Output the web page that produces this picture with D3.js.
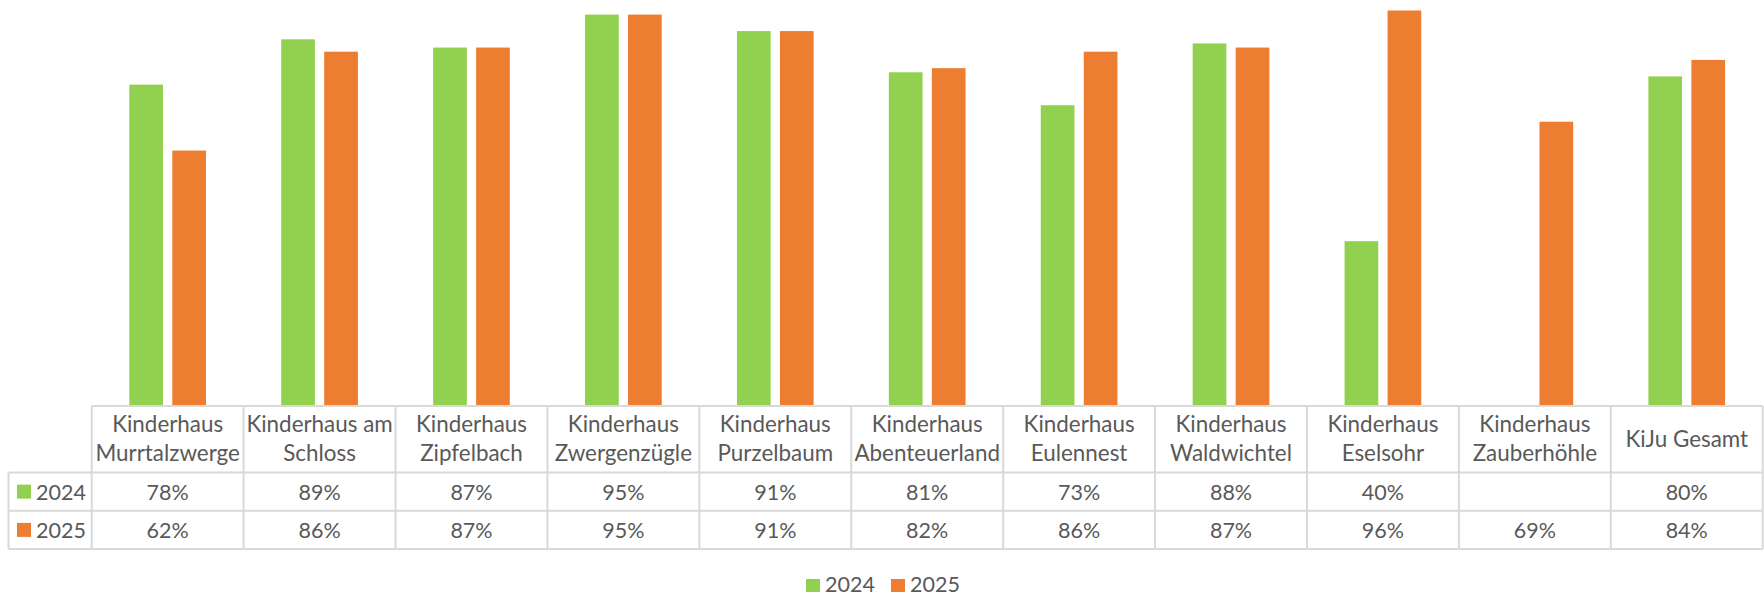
<!DOCTYPE html>
<html><head><meta charset="utf-8">
<script src="https://cdn.jsdelivr.net/npm/d3@7"></script>
<style>body{margin:0;background:#fff}svg{display:block}text{font-family:Lato,"Open Sans",sans-serif;fill:#595959}</style>
</head><body><svg id="c" width="1764" height="595"></svg>
<script>
const categories = ["Kinderhaus\nMurrtalzwerge","Kinderhaus am\nSchloss","Kinderhaus\nZipfelbach","Kinderhaus\nZwergenzügle","Kinderhaus\nPurzelbaum","Kinderhaus\nAbenteuerland","Kinderhaus\nEulennest","Kinderhaus\nWaldwichtel","Kinderhaus\nEselsohr","Kinderhaus\nZauberhöhle","KiJu Gesamt"];
const seriesNames = ["2024","2025"];
const values2024 = [0.78,0.89,0.87,0.95,0.91,0.81,0.73,0.88,0.40,null,0.80];
const values2025 = [0.62,0.86,0.87,0.95,0.91,0.82,0.86,0.87,0.96,0.69,0.84];
const colors = ["#92d050","#ed7d31"];

const series = [values2024, values2025];
const svg = d3.select("#c");
const tableLeft = 91.7, tableRight = 1762.7, legendColLeft = 8.5;
const baseY = 406;
const rowBounds = [406, 472.5, 510.8, 549];

const x = d3.scaleBand().domain(d3.range(categories.length)).range([tableLeft, tableRight]).padding(0);
const inner = d3.scaleBand().domain([0,1]).range([0, 76.7]).paddingInner(0.216).paddingOuter(0);
const y = d3.scaleLinear().domain([0,1]).range([baseY, baseY - 412]);
const fmt = d3.format(".0%");

// bars
series.forEach((vals, si) => {
  svg.append("g").selectAll("rect").data(vals.map((v,i)=>({v,i})).filter(d=>d.v!=null))
    .join("rect")
    .attr("x", d => x(d.i) + x.bandwidth()/2 - 38.35 + inner(si))
    .attr("width", inner.bandwidth())
    .attr("y", d => y(d.v))
    .attr("height", d => y(0) - y(d.v))
    .attr("fill", colors[si]);
});

// table grid
const grid = svg.append("g").attr("stroke","#d9d9d9").attr("stroke-width",2).attr("fill","none");
grid.append("line").attr("x1",tableLeft).attr("x2",tableRight).attr("y1",rowBounds[0]).attr("y2",rowBounds[0]);
[1,2,3].forEach(r => grid.append("line").attr("x1",legendColLeft).attr("x2",tableRight).attr("y1",rowBounds[r]).attr("y2",rowBounds[r]));
grid.append("line").attr("x1",legendColLeft).attr("x2",legendColLeft).attr("y1",rowBounds[1]).attr("y2",rowBounds[3]);
d3.range(categories.length+1).forEach(i => {
  const xx = i < categories.length ? x(i) : tableRight;
  grid.append("line").attr("x1",xx).attr("x2",xx).attr("y1",rowBounds[0]).attr("y2",rowBounds[3]);
});

// header labels
const fs = 22.4, fsNum = 21.5;
const headerBaselines = [432, 461];
categories.forEach((c,i) => {
  const lines = c.split("\n");
  const t = svg.append("text").attr("text-anchor","middle").attr("font-size",fs);
  lines.forEach((l,k) => {
    const yy = lines.length === 2 ? headerBaselines[k] : (headerBaselines[0]+headerBaselines[1])/2;
    t.append("tspan").attr("x", x(i)+x.bandwidth()/2).attr("y", yy).text(l);
  });
});

// value rows
const rowBaselines = [499.5, 537.5];
series.forEach((vals, si) => {
  const cy = (rowBounds[si+1]+rowBounds[si+2])/2;
  svg.append("rect").attr("x",17).attr("y",cy-7).attr("width",14).attr("height",14).attr("fill",colors[si]);
  svg.append("text").attr("x",36).attr("y",rowBaselines[si]).attr("font-size",fsNum).text(seriesNames[si]);
  vals.forEach((v,i) => {
    if (v==null) return;
    svg.append("text").attr("text-anchor","middle").attr("font-size",fsNum)
      .attr("x", x(i)+x.bandwidth()/2).attr("y",rowBaselines[si]).text(fmt(v));
  });
});

// legend
const lg = svg.append("g");
const legX = [806, 891];
seriesNames.forEach((s,si) => {
  lg.append("rect").attr("x",legX[si]).attr("y",579).attr("width",14).attr("height",13).attr("fill",colors[si]);
  lg.append("text").attr("x",legX[si]+19).attr("y",591.5).attr("font-size",fsNum).text(s);
});
</script></body></html>
